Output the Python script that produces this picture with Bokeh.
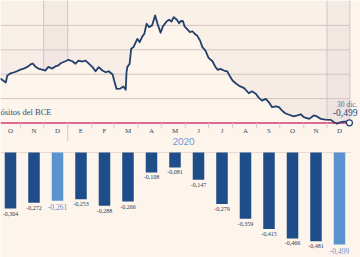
import numpy as np
import pandas as pd
from bokeh.plotting import figure
from bokeh.models import Range1d
from bokeh.core.properties import value
from bokeh.embed import file_html
from bokeh.resources import INLINE

# ---------------- data ----------------
inicio = pd.Timestamp("2019-10-01")
# daily Euribor 12M (days since 2019-10-01)
dias = [5, 12, 14, 18, 22, 27, 31, 35, 40, 44, 47, 50, 54, 59, 63, 67, 72, 76, 80, 83,
        89, 93, 98, 102, 106, 111, 115, 119, 124, 128, 132, 137, 141, 145, 150, 152, 155,
        160, 164, 167, 168, 169, 172, 174, 177, 180, 182, 185, 188, 191, 194, 197, 201,
        205, 208, 212, 215, 220, 223, 226, 229, 233, 236, 238, 241, 243, 246, 250, 253,
        256, 259, 263, 266, 270, 274, 279, 283, 286, 289, 294, 298, 301, 305, 309, 313,
        315, 320, 326, 330, 335, 339, 343, 348, 352, 356, 361, 365, 369, 373, 378, 384,
        389, 393, 397, 404, 410, 414, 419, 425, 432, 436, 440, 444, 449, 453, 456]
euribor = [-0.318, -0.334, -0.305, -0.297, -0.293, -0.287, -0.281, -0.277, -0.270, -0.260,
           -0.256, -0.268, -0.277, -0.281, -0.285, -0.270, -0.277, -0.268, -0.264, -0.255,
           -0.247, -0.241, -0.247, -0.257, -0.244, -0.248, -0.244, -0.256, -0.271, -0.288,
           -0.271, -0.285, -0.292, -0.288, -0.301, -0.326, -0.360, -0.359, -0.350, -0.364,
           -0.292, -0.271, -0.257, -0.196, -0.189, -0.169, -0.155, -0.169, -0.148, -0.134,
           -0.093, -0.107, -0.100, -0.059, -0.093, -0.130, -0.104, -0.083, -0.077, -0.084,
           -0.066, -0.077, -0.091, -0.082, -0.083, -0.104, -0.114, -0.128, -0.124, -0.134,
           -0.141, -0.162, -0.189, -0.203, -0.233, -0.247, -0.271, -0.282, -0.278, -0.285,
           -0.288, -0.305, -0.326, -0.337, -0.346, -0.350, -0.357, -0.378, -0.370, -0.380,
           -0.397, -0.408, -0.401, -0.415, -0.435, -0.432, -0.435, -0.449, -0.460, -0.466,
           -0.473, -0.469, -0.464, -0.476, -0.483, -0.469, -0.473, -0.483, -0.486, -0.487,
           -0.497, -0.503, -0.497, -0.494, -0.494, -0.499]
meses = ["O", "N", "D", "E", "F", "M", "A", "M", "J", "J", "A", "S", "O", "N", "D"]
medias = [-0.304, -0.272, -0.261, -0.253, -0.288, -0.266, -0.108, -0.081, -0.147,
          -0.279, -0.359, -0.415, -0.466, -0.481, -0.499]
destacados = [2, 14]          # diciembres
grid_vals = [-0.1, -0.2, -0.3, -0.4]
deposito_bce = -0.5
etiqueta_bce = "ósitos del BCE"
anio = "2020"
ultimo_txt = "30 dic."

# ---------------- style ----------------
BG = "#fdf5ec"
NAVY = "#233f6b"
BAR_DARK = "#1f4d8a"
BAR_LIGHT = "#5b93d1"
PINK = "#d63a74"
SHADE = "#857b88"
SERIF = value("Liberation Serif")

x_lo, x_hi = 5.17, 470.3
p = figure(width=360, height=257, x_range=Range1d(x_lo, x_hi),
           y_range=Range1d(-1.051, 0.002), min_border=0,
           toolbar_location=None, output_backend="svg",
           x_axis_location=None, y_axis_location=None,
           background_fill_color=BG, border_fill_color=BG,
           outline_line_color=None)
p.extra_x_ranges = {"idx": Range1d(-0.4255, 14.894)}
p.extra_y_ranges = {"bars": Range1d(-0.569, 0.824)}
for g in p.grid:
    g.visible = False

ms = pd.date_range("2019-10-01", "2021-01-01", freq="MS")
ms_days = np.array((ms - inicio).days, dtype=float)

x_end = dias[-1] + 0.5
y_top = 0.002

# shading above the line (stacked translucent layers -> soft gradient)
def area_from(xa, xb, alpha, floor=None):
    xs = [xa] + [d for d in dias if xa < d < xb] + [xb]
    lo = np.interp(xs, dias, euribor)
    if floor is not None:
        hi = np.maximum(lo, floor)
    else:
        hi = np.full(len(xs), y_top)
    p.varea(x=xs, y1=list(lo), y2=list(hi), fill_color=SHADE, fill_alpha=alpha)

K = 40
starts = np.linspace(x_lo, x_end, K + 1)[:-1]
area_from(x_lo, x_end, 0.03)
for s in starts[1:]:
    area_from(s, x_end, 0.0018)
for g in grid_vals:
    area_from(x_lo, x_end, 0.012, floor=g)
bands = [(ms_days[i], ms_days[i + 1]) for i in destacados]
for a, b in bands:
    area_from(a, min(b, x_end), 0.05)

# grid lines
p.segment(x0=[x_lo] * len(grid_vals), x1=[x_end] * len(grid_vals),
          y0=grid_vals, y1=grid_vals, line_color="#d2c4c2", line_width=1)

# band edges
edges = [bands[0][0], bands[0][1], bands[1][0], x_end]
p.segment(x0=edges, x1=edges, y0=[y_top] * 4, y1=list(np.interp(edges, dias, euribor)),
          line_color="#cdc5cf", line_width=1)

# ECB deposit line
p.segment(x0=[x_lo], x1=[dias[-1]], y0=[deposito_bce], y1=[deposito_bce],
          line_color=PINK, line_width=1.5)

# month ticks
mt = list(ms_days[1:-1])
p.segment(x0=mt, x1=mt, y0=[deposito_bce] * len(mt),
          y1=[deposito_bce - 0.022] * len(mt), line_color="#d6c9c9", line_width=1)
yr = ms_days[3]
p.segment(x0=[yr], x1=[yr], y0=[deposito_bce], y1=[deposito_bce - 0.074],
          line_color="#d6c9c9", line_width=1)

# euribor line
p.line(dias, euribor, line_color=NAVY, line_width=1.8, line_join="round")
p.scatter(x=[dias[-1]], y=[euribor[-1]], size=6, fill_color="white",
          line_color=NAVY, line_width=1.2)

# labels in line panel
p.text(x=[x_lo], y=[deposito_bce + 0.047], text=[etiqueta_bce],
       text_align="left", text_baseline="middle", text_font=SERIF,
       text_font_size="8.5px", text_color="#3c4a66")
p.text(x=[466.4], y=[deposito_bce + 0.076], text=[ultimo_txt],
       text_align="right", text_baseline="middle", text_font=SERIF,
       text_font_size="7.5px", text_color="#4f71a6")
p.text(x=[466.4], y=[deposito_bce + 0.043],
       text=[f"{euribor[-1]:.3f}".replace(".", ",")],
       text_align="right", text_baseline="middle", text_font=SERIF,
       text_font_size="9.5px", text_color="#2b4675")

# month labels
idx = list(range(len(meses)))
p.text(x=idx, y=deposito_bce - 0.0307, text=meses, x_range_name="idx",
       text_align="center", text_baseline="middle", text_font=SERIF,
       text_font_size="7px", text_color="#3f4656")
p.text(x=[7.36], y=[0.0596], text=[anio], x_range_name="idx", y_range_name="bars",
       text_align="center", text_baseline="middle", text_font=value("Lato"),
       text_font_size="9.5px", text_color="#6a9ad4")

# bars
p.segment(x0=[-0.4255], x1=[14.5], y0=[0], y1=[0], x_range_name="idx",
          y_range_name="bars", line_color="#e6dcd3", line_width=1)
colors = [BAR_LIGHT if i in destacados else BAR_DARK for i in idx]
p.vbar(x=idx, top=0, bottom=medias, width=0.49, x_range_name="idx",
       y_range_name="bars", fill_color=colors, line_color=None)
lab = [f"{m:.3f}".replace(".", ",") for m in medias]
dk = [i for i in idx if i not in destacados]
p.text(x=dk, y=[medias[i] for i in dk], text=[lab[i] for i in dk],
       x_range_name="idx", y_range_name="bars", text_align="center",
       text_baseline="top", y_offset=3, text_font=SERIF, text_font_size="6px",
       text_color="#2a3a58")
p.text(x=destacados, y=[medias[i] for i in destacados],
       text=[lab[i] for i in destacados], x_range_name="idx", y_range_name="bars",
       text_align="center", text_baseline="top", y_offset=3, text_font=SERIF,
       text_font_size="7.5px", text_color=BAR_LIGHT)

open("out.html", "w").write(file_html(p, INLINE))
